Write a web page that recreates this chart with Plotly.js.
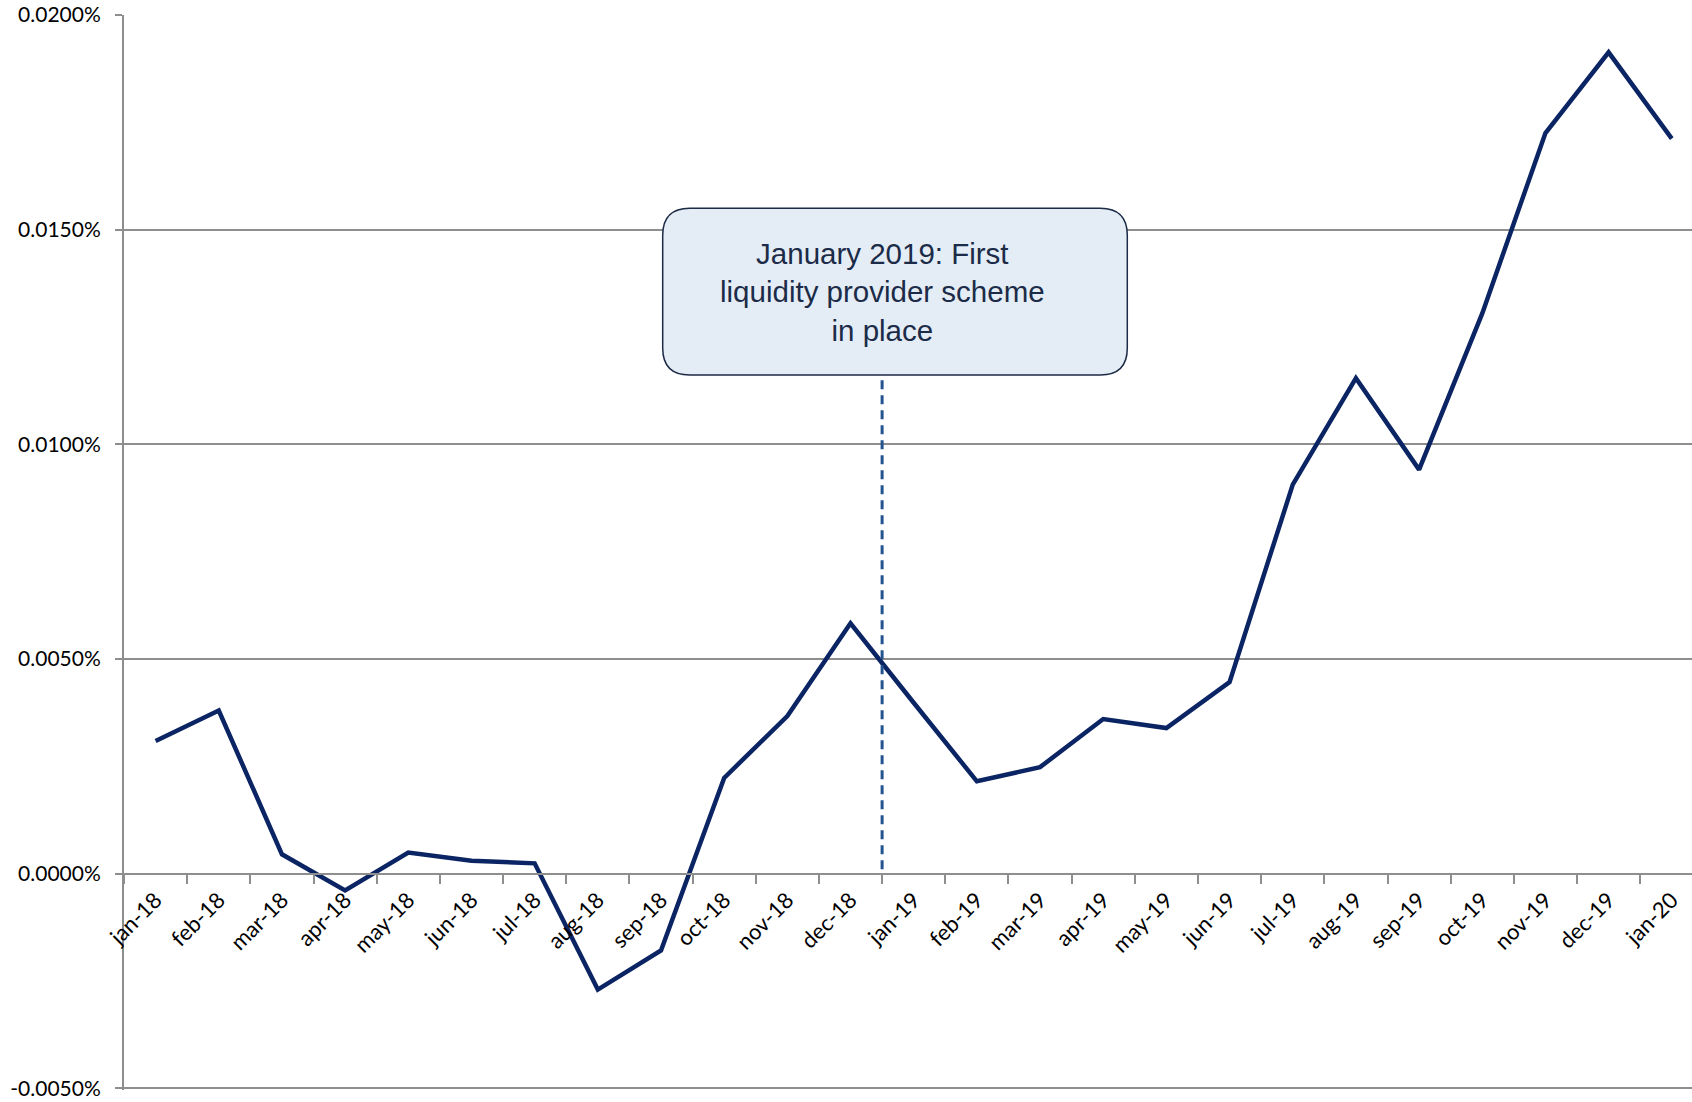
<!DOCTYPE html>
<html>
<head>
<meta charset="utf-8">
<script src="https://cdn.plot.ly/plotly-3.0.1.min.js"></script>
<style>body{margin:0;background:#fff}</style>
</head>
<body>
<div id="chart" style="width:1692px;height:1102px"></div>
<script>
// ---- data ----
const months = ['jan-18','feb-18','mar-18','apr-18','may-18','jun-18','jul-18','aug-18','sep-18','oct-18','nov-18','dec-18',
                'jan-19','feb-19','mar-19','apr-19','may-19','jun-19','jul-19','aug-19','sep-19','oct-19','nov-19','dec-19','jan-20'];
// values in percent
const spread = [0.00309, 0.00380, 0.00045, -0.00039, 0.00049, 0.00030, 0.00024, -0.00270, -0.00179, 0.00223, 0.00367, 0.00583,
                0.00398, 0.00215, 0.00248, 0.00360, 0.00339, 0.00446, 0.00906, 0.01154, 0.00941, 0.01305, 0.01725, 0.01913, 0.01712];
const yTickVals = [-0.005, 0, 0.005, 0.01, 0.015, 0.02];
const yTickText = ['-0.0050%', '0.0000%', '0.0050%', '0.0100%', '0.0150%', '0.0200%'];
const eventLabel = 'January 2019: First<br>liquidity provider scheme<br>in place';
const eventBoundary = 11.5;   // between dec-18 and jan-19

// ---- layout geometry ----
const W = 1692, H = 1102;
const M = {l:124, r:0, t:15, b:12};
const PW = W - M.l - M.r, PH = H - M.t - M.b;
const grey = '#8e8e8e';
const yRange = [-0.00504, 0.02];

// rounded callout box (pixel box inside figure -> paper coords)
const box = {x0:662.7, x1:1127.3, y0:208.3, y1:375, r:27};
function px2paperX(px){ return (px - M.l) / PW; }
function px2paperY(py){ return 1 - (py - M.t) / PH; }
const bx0 = px2paperX(box.x0), bx1 = px2paperX(box.x1);
const byT = px2paperY(box.y0), byB = px2paperY(box.y1);
const rx = box.r / PW, ry = box.r / PH;
const boxPath = `M ${bx0+rx},${byT} L ${bx1-rx},${byT} Q ${bx1},${byT} ${bx1},${byT-ry} ` +
  `L ${bx1},${byB+ry} Q ${bx1},${byB} ${bx1-rx},${byB} L ${bx0+rx},${byB} Q ${bx0},${byB} ${bx0},${byB+ry} ` +
  `L ${bx0},${byT-ry} Q ${bx0},${byT} ${bx0+rx},${byT} Z`;
const boxBottomVal = yRange[0] + byB * (yRange[1] - yRange[0]);
const boxCenterVal = yRange[0] + ((byT + byB) / 2) * (yRange[1] - yRange[0]);
const zeroPos = (0 - yRange[0]) / (yRange[1] - yRange[0]);

const trace = {
  x: months, y: spread, type: 'scatter', mode: 'lines',
  line: {color: '#0b2463', width: 4.5}, hoverinfo: 'skip'
};

const layout = {
  width: W, height: H, margin: M,
  paper_bgcolor: '#ffffff', plot_bgcolor: '#ffffff', showlegend: false,
  xaxis: {
    type: 'category', range: [-0.5, 24.32], anchor: 'free', position: zeroPos,
    showline: true, linecolor: grey, linewidth: 2,
    ticks: 'outside', tickson: 'boundaries', ticklen: 9, tickcolor: grey, tickwidth: 2,
    tickangle: -45, showgrid: false, zeroline: false, ticklabelstandoff: 4,
    tickfont: {family: 'Lato, "Open Sans", sans-serif', size: 22, color: '#000'}
  },
  yaxis: {
    range: yRange, tickvals: yTickVals, ticktext: yTickText,
    showgrid: true, gridcolor: grey, gridwidth: 2, zeroline: false,
    showline: true, linecolor: grey, linewidth: 2,
    ticks: 'outside', ticklen: 7, tickcolor: grey, tickwidth: 2, ticklabelstandoff: 10,
    tickfont: {family: 'Lato, "Open Sans", sans-serif', size: 21, color: '#000'}
  },
  shapes: [
    {type: 'line', xref: 'x', yref: 'y', x0: eventBoundary, x1: eventBoundary, y0: 0.0001, y1: boxBottomVal,
     line: {color: '#24548f', width: 3, dash: '9px,6px'}, layer: 'above'},
    {type: 'path', xref: 'paper', yref: 'paper', path: boxPath,
     fillcolor: '#e4edf5', line: {color: '#1b2a45', width: 1.5}, layer: 'above'}
  ],
  annotations: [
    {xref: 'x', yref: 'y', x: eventBoundary, y: boxCenterVal, text: eventLabel, showarrow: false,
     xanchor: 'center', yanchor: 'middle', align: 'center',
     font: {family: '"Liberation Sans", Arial, sans-serif', size: 29.5, color: '#1b2b48'}}
  ]
};

Plotly.newPlot('chart', [trace], layout, {displayModeBar: false, staticPlot: true});
</script>
</body>
</html>
